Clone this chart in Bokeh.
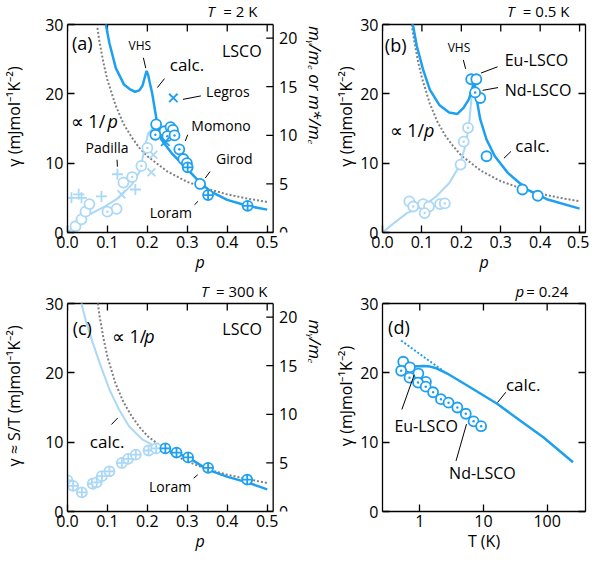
import math
from bokeh.plotting import figure
from bokeh.layouts import gridplot
from bokeh.models import (Range1d, LinearAxis, FixedTicker,
                          PrintfTickFormatter, CustomJSTickFormatter, Label)
from bokeh.embed import file_html
from bokeh.resources import INLINE

FONT = "Open Sans"
DARK = "#1ea0f0"
LIGHT = "#aad8f6"
GRAY = "#808080"

# ---------------- panel (a): T = 2 K ----------------
a_calc_p = [0.096, 0.105, 0.121, 0.142, 0.158, 0.169, 0.180, 0.188, 0.194, 0.198, 0.202,
            0.206, 0.212, 0.218, 0.223, 0.235, 0.260, 0.285, 0.309, 0.334, 0.359, 0.400,
            0.450, 0.500]
a_calc_g = [30.0, 27.3, 23.7, 21.3, 20.6, 20.3, 20.5, 21.2, 22.5, 23.3, 22.7,
            21.6, 20.1, 18.0, 16.3, 13.4, 11.5, 10.0, 8.6, 7.1, 5.9, 4.7,
            3.85, 3.3]
a_light_p = [0.0, 0.012, 0.045, 0.095, 0.128, 0.161, 0.181, 0.194, 0.202, 0.214, 0.222]
a_light_g = [0.0, 0.6, 2.3, 3.8, 5.0, 6.9, 8.8, 12.4, 14.3, 15.1, 15.3]
a_inv_p = [0.075, 0.08, 0.09, 0.1, 0.12, 0.14, 0.16, 0.18, 0.2, 0.25, 0.3, 0.35, 0.4, 0.45, 0.5]
a_inv_g = [29.5, 27.5, 24.5, 22.0, 18.4, 15.7, 13.8, 12.2, 11.0, 8.8, 7.3, 6.3, 5.5, 4.9, 4.4]
padilla_p = [0.01, 0.028, 0.035, 0.085, 0.125, 0.17]
padilla_g = [5.0, 5.5, 5.0, 5.2, 8.4, 6.2]
a_lx_p = [0.135, 0.21, 0.215]
a_lx_g = [5.5, 8.7, 11.2]
a_lo_p = [0.02, 0.035, 0.045, 0.055, 0.123, 0.14]
a_lo_g = [0.9, 1.9, 3.0, 4.1, 3.4, 7.2]
a_ldot_p = [0.1, 0.162, 0.185, 0.2]
a_ldot_g = [3.0, 8.0, 9.6, 12.2]
momono_o_p = [0.222, 0.243, 0.258, 0.264, 0.29]
momono_o_g = [15.6, 14.6, 15.2, 14.8, 10.6]
momono_dot_p = [0.22, 0.25, 0.268, 0.28, 0.299]
momono_dot_g = [14.1, 13.9, 14.0, 12.0, 10.0]
legros_p = [0.265, 0.245]
legros_g = [19.4, 13.1]
girod_p = [0.332]
girod_g = [7.0]
a_loram_p = [0.301, 0.352, 0.451]
a_loram_g = [9.4, 5.4, 3.85]

# ---------------- panel (b): T = 0.5 K ----------------
b_calc_p = [0.077, 0.087, 0.103, 0.120, 0.144, 0.169, 0.190, 0.206, 0.219, 0.227, 0.231,
            0.235, 0.239, 0.248, 0.264, 0.285, 0.318, 0.367, 0.417, 0.500]
b_calc_g = [30.0, 26.9, 23.5, 20.6, 18.4, 17.3, 17.1, 18.0, 19.2, 20.6, 21.6,
            21.1, 19.2, 16.3, 13.4, 11.0, 8.6, 6.2, 4.8, 3.45]
b_light_p = [0.0, 0.029, 0.062, 0.103, 0.136, 0.169, 0.194, 0.210, 0.219, 0.227, 0.231]
b_light_g = [0.0, 1.35, 2.8, 3.75, 5.2, 7.1, 9.5, 12.4, 15.3, 20.1, 21.6]
b_inv_p = [0.074, 0.08, 0.09, 0.1, 0.12, 0.14, 0.16, 0.18, 0.2, 0.25, 0.3, 0.35, 0.4, 0.45, 0.5]
b_inv_g = [30.0, 27.8, 24.7, 22.3, 18.6, 15.9, 13.9, 12.4, 11.1, 8.9, 7.4, 6.4, 5.6, 5.0, 4.5]
b_lo_p = [0.068, 0.103, 0.118, 0.146, 0.198]
b_lo_g = [4.5, 4.1, 3.75, 4.1, 9.8]
b_ldot_p = [0.078, 0.107, 0.158, 0.206, 0.217]
b_ldot_g = [3.75, 2.8, 4.2, 13.1, 15.1]
eu_b_p = [0.225, 0.238, 0.248, 0.264, 0.355, 0.394]
eu_b_g = [22.1, 22.1, 19.4, 11.0, 6.2, 5.3]
nd_b_p = [0.235]
nd_b_g = [20.2]

# ---------------- panel (c): T = 300 K ----------------
c_light_p = [0.035, 0.047, 0.063, 0.080, 0.105, 0.129, 0.154, 0.187, 0.220, 0.240]
c_light_g = [30.0, 27.3, 24.4, 21.5, 17.6, 14.7, 12.3, 10.4, 9.4, 9.1]
c_calc_p = [0.240, 0.273, 0.302, 0.352, 0.401, 0.450, 0.500]
c_calc_g = [9.1, 8.4, 7.8, 6.0, 5.0, 4.2, 3.2]
c_inv_p = [0.076, 0.08, 0.09, 0.1, 0.12, 0.14, 0.16, 0.18, 0.2, 0.25, 0.3, 0.35, 0.4, 0.45, 0.5]
c_inv_g = [30.0, 28.3, 25.0, 22.3, 18.5, 15.8, 13.8, 12.2, 10.9, 8.7, 7.2, 6.1, 5.3, 4.7, 4.1]
c_lplus_p = [0.0, 0.014, 0.036, 0.063, 0.073, 0.086, 0.105, 0.136, 0.152, 0.171, 0.203, 0.222]
c_lplus_g = [4.5, 3.7, 2.75, 4.0, 4.2, 5.1, 5.8, 7.0, 7.6, 8.2, 8.8, 9.1]
c_loram_p = [0.245, 0.273, 0.302, 0.352, 0.45]
c_loram_g = [9.1, 8.5, 7.8, 6.3, 4.6]

# ---------------- panel (d): p = 0.24 ----------------
d_calc_T = [0.77, 1.17, 1.45, 1.76, 2.82, 5.73, 16.6, 38.0, 87.0, 255.0]
d_calc_g = [20.9, 21.0, 20.9, 20.7, 19.8, 18.1, 15.5, 13.1, 10.7, 7.1]
d_dot_T = [0.51, 2.4]
d_dot_g = [24.65, 20.2]
eu_d_T = [0.55, 0.7, 0.95, 1.25]
eu_d_g = [21.6, 20.8, 19.9, 18.7]
nd_d_T = [0.51, 0.69, 0.94, 1.24, 1.62, 2.15, 2.83, 3.89, 5.28, 7.0, 9.2]
nd_d_g = [20.3, 19.3, 18.6, 18.0, 17.2, 16.2, 15.7, 15.0, 14.1, 13.0, 12.3]

p_ticks = [0.0, 0.1, 0.2, 0.3, 0.4, 0.5]
g_ticks = [0, 10, 20, 30]
m_ticks = [0, 5, 10, 15, 20]
T_ticks = [1, 10, 100]

G_MAX = 30.0          # top of the drawn box
M_MAX = 21.4          # right-hand scale at the top of the box
P_MAX = 0.515         # right edge of the drawn box (p panels)
BOX_PX = 208          # size of the drawn box in pixels
TICK_PX = 7
PX_PER_P = BOX_PX / P_MAX


def setup_axis(ax, ticks, fmt=None, show=True, standoff=4, label_standoff=0):
    ax.ticker = FixedTicker(ticks=ticks, minor_ticks=[])
    ax.major_tick_in = TICK_PX
    ax.major_tick_out = 0
    ax.minor_tick_line_color = None
    ax.axis_line_color = "black"
    ax.axis_line_width = 1.3
    ax.major_tick_line_color = "black"
    ax.major_tick_line_width = 1.3
    ax.major_label_text_font = FONT
    ax.major_label_text_font_size = "16px"
    ax.major_label_text_color = "black"
    ax.major_label_standoff = standoff
    ax.axis_label_text_font = FONT
    ax.axis_label_text_font_size = "16px"
    ax.axis_label_text_font_style = "normal"
    ax.axis_label_text_color = "black"
    ax.axis_label_standoff = label_standoff
    if not show:
        ax.formatter = CustomJSTickFormatter(code="return ''")
        ax.major_label_text_font_size = "0px"
        ax.major_label_standoff = 0
    elif fmt is not None:
        ax.formatter = fmt


def make_fig(w, h, bl, br, bb, xr, x_right, log=False):
    """Plot frame is taller (and for p panels wider) than the drawn box so that
    the texts above and to the right of the box can live inside it."""
    frame_px = h - bb
    ytop = G_MAX * frame_px / BOX_PX
    p = figure(width=w, height=h, x_range=Range1d(*xr), y_range=Range1d(0, ytop),
               x_axis_type="log" if log else "linear", output_backend="svg",
               toolbar_location=None, tools="")
    p.min_border_left = bl
    p.min_border_right = br
    p.min_border_top = 0
    p.min_border_bottom = bb
    p.grid.visible = False
    p.outline_line_color = None
    p.background_fill_color = "white"
    p.border_fill_color = "white"
    p.left[0].bounds = (0, G_MAX)
    p.below[0].bounds = (xr[0], x_right)
    # top edge of the box
    p.segment(x0=[xr[0]], y0=[G_MAX], x1=[x_right], y1=[G_MAX],
              line_color="black", line_width=1.3)
    return p, ytop


def top_ticks(p, ticks):
    tl = TICK_PX * G_MAX / BOX_PX
    p.segment(x0=ticks, y0=[G_MAX] * len(ticks), x1=ticks, y1=[G_MAX - tl] * len(ticks),
              line_color="black", line_width=1.3)


def m_scale(p, ytop, label, label_dx_px, label_top):
    """Right-hand m/m_e scale drawn at the right edge of the box."""
    p.extra_y_ranges = {"m": Range1d(0, M_MAX * ytop / G_MAX)}
    p.segment(x0=[P_MAX], y0=[0], x1=[P_MAX], y1=[G_MAX],
              line_color="black", line_width=1.3)
    tl = TICK_PX / PX_PER_P
    p.segment(x0=[P_MAX - tl] * len(m_ticks), y0=m_ticks, x1=[P_MAX] * len(m_ticks),
              y1=m_ticks, line_color="black", line_width=1.3, y_range_name="m")
    for m in m_ticks:
        p.add_layout(Label(x=P_MAX + 6 / PX_PER_P, y=m, y_range_name="m", text=str(m),
                           text_font=FONT, text_font_size="16px", text_align="left",
                           text_baseline="middle", text_color="black"))
    p.add_layout(Label(x=P_MAX + label_dx_px / PX_PER_P, y=label_top, text=label,
                       angle=-math.pi / 2, text_font=FONT, text_font_size="17px",
                       text_font_style="italic",
                       text_align="left", text_baseline="middle", text_color="black"))


def mirror_right(p):
    ax = LinearAxis()
    p.add_layout(ax, "right")
    setup_axis(ax, g_ticks, show=False)
    ax.bounds = (0, G_MAX)


def lab(p, x, y, text, size, align="left", style="normal"):
    p.add_layout(Label(x=x, y=y, text=text, text_font=FONT, text_font_size=f"{size}px",
                       text_align=align, text_baseline="middle", text_font_style=style,
                       text_color="black"))


def leaders(p, segs):
    p.segment(x0=[s[0] for s in segs], y0=[s[1] for s in segs],
              x1=[s[2] for s in segs], y1=[s[3] for s in segs],
              line_color="black", line_width=1)


def circ(p, x, y, color, marker="circle", size=10):
    p.scatter(x, y, marker=marker, size=size, line_color=color, fill_color="white",
              line_width=1.8)


def cross(p, x, y, color, marker="cross", size=11):
    p.scatter(x, y, marker=marker, size=size, line_color=color, line_width=1.8)


EXT_PX = 60                                   # extra frame width right of the box
P_RANGE_WIDE = (0.0, P_MAX * (BOX_PX + EXT_PX) / BOX_PX)
P_RANGE = (0.0, P_MAX)
M_LABEL_A = "mᵧ/mₑ or m*/mₑ"
M_LABEL_C = "mᵧ/mₑ"
G_LABEL = "γ (mJmol⁻¹K⁻²)"
TITLE_PX = 15
W_LEFT = 64 + BOX_PX + EXT_PX    # 332
W_RIGHT = 45 + BOX_PX + 4        # 257

# ---------- (a) ----------
pa, ya = make_fig(W_LEFT, 280, 64, 0, 48, P_RANGE_WIDE, P_MAX)
setup_axis(pa.below[0], p_ticks, PrintfTickFormatter(format="%.1f"), standoff=3)
pa.below[0].axis_label = "p"
pa.below[0].axis_label_text_font_style = "italic"
setup_axis(pa.left[0], g_ticks, label_standoff=17)
pa.left[0].axis_label = G_LABEL
top_ticks(pa, p_ticks)

pa.line(a_inv_p, a_inv_g, line_color=GRAY, line_width=2, line_dash="2 2")
pa.line(a_light_p, a_light_g, line_color=LIGHT, line_width=2)
pa.line(a_calc_p, a_calc_g, line_color=DARK, line_width=2.5)
cross(pa, padilla_p, padilla_g, LIGHT, "cross")
cross(pa, a_lx_p, a_lx_g, LIGHT, "x")
circ(pa, a_lo_p, a_lo_g, LIGHT)
circ(pa, a_ldot_p, a_ldot_g, LIGHT, "circle_dot")
circ(pa, momono_o_p, momono_o_g, DARK)
circ(pa, momono_dot_p, momono_dot_g, DARK, "circle_dot")
cross(pa, legros_p, legros_g, DARK, "x", 12)
circ(pa, girod_p, girod_g, DARK)
circ(pa, a_loram_p, a_loram_g, DARK, "circle_cross")
m_scale(pa, ya, M_LABEL_A, 43, 29.8)

leaders(pa, [(0.190, 25.2, 0.196, 23.7), (0.243, 22.2, 0.225, 20.9),
             (0.289, 19.2, 0.334, 19.7), (0.295, 13.2, 0.301, 14.1),
             (0.345, 7.85, 0.357, 8.8), (0.318, 4.0, 0.327, 4.5),
             (0.124, 10.5, 0.125, 9.5)])
lab(pa, 0.011, 27.4, "(a)", 18)
lab(pa, 0.181, 26.9, "VHS", 12, "center")
lab(pa, 0.256, 24.2, "calc.", 17)
lab(pa, 0.486, 26.2, "LSCO", 16, "right")
lab(pa, 0.347, 20.3, "Legros", 14)
lab(pa, 0.310, 15.4, "Momono", 14)
lab(pa, 0.372, 10.7, "Girod", 14)
lab(pa, 0.206, 2.93, "Loram", 14)
lab(pa, 0.045, 12.3, "Padilla", 14)
lab(pa, 0.008, 16.1, "∝ 1/", 18)
lab(pa, 0.100, 16.1, "p", 18, style="italic")
lab(pa, 0.350, 31.95, "T", TITLE_PX, style="italic")
lab(pa, 0.390, 31.95, "= 2 K", TITLE_PX)

# ---------- (b) ----------
pb, yb = make_fig(W_RIGHT, 280, 45, 4, 48, P_RANGE, P_MAX)
setup_axis(pb.below[0], p_ticks, PrintfTickFormatter(format="%.1f"), standoff=3)
pb.below[0].axis_label = "p"
pb.below[0].axis_label_text_font_style = "italic"
setup_axis(pb.left[0], g_ticks, label_standoff=0)
pb.left[0].axis_label = G_LABEL
mirror_right(pb)
top_ticks(pb, p_ticks)

pb.line(b_inv_p, b_inv_g, line_color=GRAY, line_width=2, line_dash="2 2")
pb.line(b_light_p, b_light_g, line_color=LIGHT, line_width=2)
pb.line(b_calc_p, b_calc_g, line_color=DARK, line_width=2.5)
circ(pb, b_lo_p, b_lo_g, LIGHT)
circ(pb, b_ldot_p, b_ldot_g, LIGHT, "circle_dot")
circ(pb, eu_b_p, eu_b_g, DARK)
circ(pb, nd_b_p, nd_b_g, DARK, "circle_dot")

leaders(pb, [(0.205, 24.9, 0.211, 23.6), (0.250, 23.0, 0.292, 23.9),
             (0.254, 20.5, 0.293, 20.9), (0.308, 10.7, 0.326, 11.7)])
lab(pb, 0.006, 27.1, "(b)", 18)
lab(pb, 0.194, 26.7, "VHS", 12, "center")
lab(pb, 0.310, 24.9, "Eu-LSCO", 16)
lab(pb, 0.310, 20.6, "Nd-LSCO", 16)
lab(pb, 0.018, 14.8, "∝ 1/", 18)
lab(pb, 0.105, 14.8, "p", 18, style="italic")
lab(pb, 0.337, 12.5, "calc.", 17)
lab(pb, 0.316, 31.95, "T", TITLE_PX, style="italic")
lab(pb, 0.356, 31.95, "= 0.5 K", TITLE_PX)

# ---------- (c) ----------
pc, yc = make_fig(W_LEFT, 278, 64, 0, 47, P_RANGE_WIDE, P_MAX)
setup_axis(pc.below[0], p_ticks, PrintfTickFormatter(format="%.1f"), standoff=3)
pc.below[0].axis_label = "p"
pc.below[0].axis_label_text_font_style = "italic"
setup_axis(pc.left[0], g_ticks, label_standoff=17)
pc.left[0].axis_label = "γ ≈ S/T (mJmol⁻¹K⁻²)"
top_ticks(pc, p_ticks)

pc.line(c_inv_p, c_inv_g, line_color=GRAY, line_width=2, line_dash="2 2")
pc.line(c_light_p, c_light_g, line_color=LIGHT, line_width=2)
pc.line(c_calc_p, c_calc_g, line_color=DARK, line_width=2.5)
circ(pc, c_lplus_p, c_lplus_g, LIGHT, "circle_cross")
circ(pc, c_loram_p, c_loram_g, DARK, "circle_cross")
m_scale(pc, yc, M_LABEL_C, 43, 27.7)

leaders(pc, [(0.110, 12.55, 0.126, 13.5), (0.316, 4.8, 0.326, 5.3)])
lab(pc, 0.013, 26.4, "(c)", 18)
lab(pc, 0.111, 25.3, "∝ 1/", 18)
lab(pc, 0.192, 25.3, "p", 18, style="italic")
lab(pc, 0.487, 26.3, "LSCO", 16, "right")
lab(pc, 0.056, 10.1, "calc.", 17)
lab(pc, 0.204, 3.6, "Loram", 14)
lab(pc, 0.334, 31.8, "T", TITLE_PX, style="italic")
lab(pc, 0.372, 31.8, "= 300 K", TITLE_PX)

# ---------- (d) ----------
pd_, yd = make_fig(W_RIGHT, 278, 45, 4, 47, (0.26, 400.0), 400.0, log=True)
setup_axis(pd_.below[0], T_ticks, PrintfTickFormatter(format="%d"), standoff=3)
pd_.below[0].axis_label = "T (K)"
setup_axis(pd_.left[0], g_ticks, label_standoff=0)
pd_.left[0].axis_label = G_LABEL
mirror_right(pd_)
top_ticks(pd_, T_ticks)

pd_.line(d_dot_T, d_dot_g, line_color=DARK, line_width=2, line_dash="2 2")
pd_.line(d_calc_T, d_calc_g, line_color=DARK, line_width=2.5)
circ(pd_, eu_d_T, eu_d_g, DARK)
circ(pd_, nd_d_T, nd_d_g, DARK, "circle_dot")

leaders(pd_, [(22.4, 17.2, 16.6, 15.7), (0.523, 14.7, 0.817, 19.7), (3.71, 7.3, 5.42, 12.6)])
lab(pd_, 0.318, 26.6, "(d)", 18)
lab(pd_, 22.5, 18.3, "calc.", 17)
lab(pd_, 0.40, 12.3, "Eu-LSCO", 16)
lab(pd_, 2.89, 5.5, "Nd-LSCO", 16)
lab(pd_, 31.8, 31.8, "p", TITLE_PX, style="italic")
lab(pd_, 47.0, 31.8, "= 0.24", TITLE_PX)

grid = gridplot([[pa, pb], [pc, pd_]], toolbar_location=None)
open("out.html", "w").write(file_html(grid, INLINE))
